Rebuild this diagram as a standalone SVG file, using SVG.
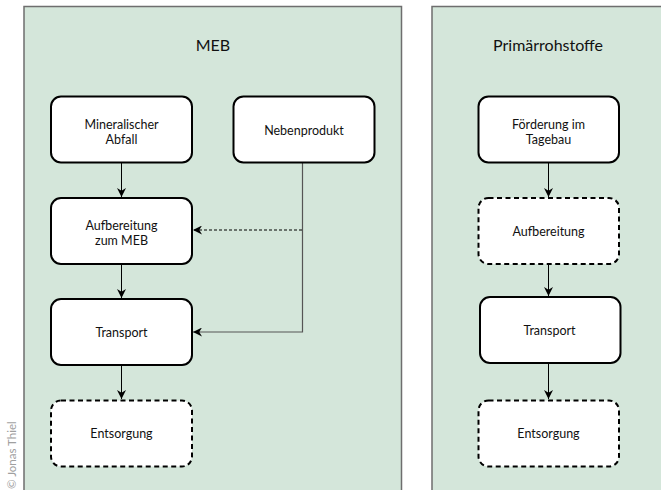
<svg xmlns="http://www.w3.org/2000/svg" width="661" height="490" viewBox="0 0 661 490">
<defs>
<style>
.panel{fill:#d4e6da;stroke:#6e6e6e;stroke-width:1.5}
.box{fill:#fff;stroke:#000;stroke-width:2}
.dash{fill:#fff;stroke:#000;stroke-width:2;stroke-dasharray:5 3.5}
.lbl{font-family:Lato,"Liberation Sans",sans-serif;font-size:12.5px;fill:#111;text-anchor:middle}
.title{font-family:Lato,"Liberation Sans",sans-serif;font-size:16px;fill:#111;text-anchor:middle}
.con{fill:none;stroke:#000;stroke-width:1}
.gcon{fill:none;stroke:#555;stroke-width:1.2}
</style>
<marker id="ah" viewBox="0 0 10 10" refX="10" refY="5" markerWidth="9" markerHeight="9" markerUnits="userSpaceOnUse" orient="auto">
<path d="M0,0 L10,5 L0,10 L3,5 Z" fill="#000"/>
</marker>
</defs>
<rect width="661" height="490" fill="#fff"/>
<rect class="panel" x="24" y="6.5" width="377.5" height="490"/>
<rect class="panel" x="432" y="6.5" width="240" height="490"/>
<text class="title" x="213" y="51">MEB</text>
<text class="title" x="548" y="51">Primärrohstoffe</text>
<text x="16" y="489" transform="rotate(-90 16 489)" font-family="Lato, Liberation Sans, sans-serif" font-size="11.5" fill="#a0a0a0">© Jonas Thiel</text>
<g id="connectors">
<path class="con" d="M121.5,162 V197" marker-end="url(#ah)"/>
<path class="con" d="M121.5,264 V298" marker-end="url(#ah)"/>
<path class="con" d="M121.5,365 V399" marker-end="url(#ah)"/>
<path class="gcon" d="M302.5,162 V332 H193" marker-end="url(#ah)"/>
<path class="con" d="M302,230 H193" stroke-dasharray="3 2" marker-end="url(#ah)"/>
<path class="con" d="M548.5,162 V197" marker-end="url(#ah)"/>
<path class="con" d="M548.5,264 V296" marker-end="url(#ah)"/>
<path class="con" d="M548.5,363 V399" marker-end="url(#ah)"/>
</g>
<g id="mineralischer-abfall">
<rect class="box" x="51" y="96.5" width="141" height="66" rx="10"/>
<text class="lbl" x="121.5" y="129">Mineralischer</text>
<text class="lbl" x="121.5" y="144">Abfall</text>
</g>
<g id="nebenprodukt">
<rect class="box" x="233.5" y="96.5" width="141" height="66" rx="10"/>
<text class="lbl" x="304" y="135">Nebenprodukt</text>
</g>
<g id="aufbereitung-meb">
<rect class="box" x="51" y="198" width="141" height="66" rx="10"/>
<text class="lbl" x="121.5" y="230">Aufbereitung</text>
<text class="lbl" x="121.5" y="245">zum MEB</text>
</g>
<g id="transport-meb">
<rect class="box" x="51" y="299" width="141" height="66" rx="10"/>
<text class="lbl" x="121.5" y="337">Transport</text>
</g>
<g id="entsorgung-meb">
<rect class="dash" x="51" y="400.5" width="141" height="66" rx="10"/>
<text class="lbl" x="121.5" y="438">Entsorgung</text>
</g>
<g id="foerderung">
<rect class="box" x="478.5" y="96.5" width="140.5" height="66" rx="10"/>
<text class="lbl" x="548.5" y="129">Förderung im</text>
<text class="lbl" x="548.5" y="144">Tagebau</text>
</g>
<g id="aufbereitung-prim">
<rect class="dash" x="478.5" y="198" width="140.5" height="66" rx="10"/>
<text class="lbl" x="548.5" y="236">Aufbereitung</text>
</g>
<g id="transport-prim">
<rect class="box" x="480" y="297" width="140.5" height="66" rx="10"/>
<text class="lbl" x="549.5" y="335">Transport</text>
</g>
<g id="entsorgung-prim">
<rect class="dash" x="478.5" y="400.5" width="140.5" height="66" rx="10"/>
<text class="lbl" x="548.5" y="438">Entsorgung</text>
</g>
</svg>
